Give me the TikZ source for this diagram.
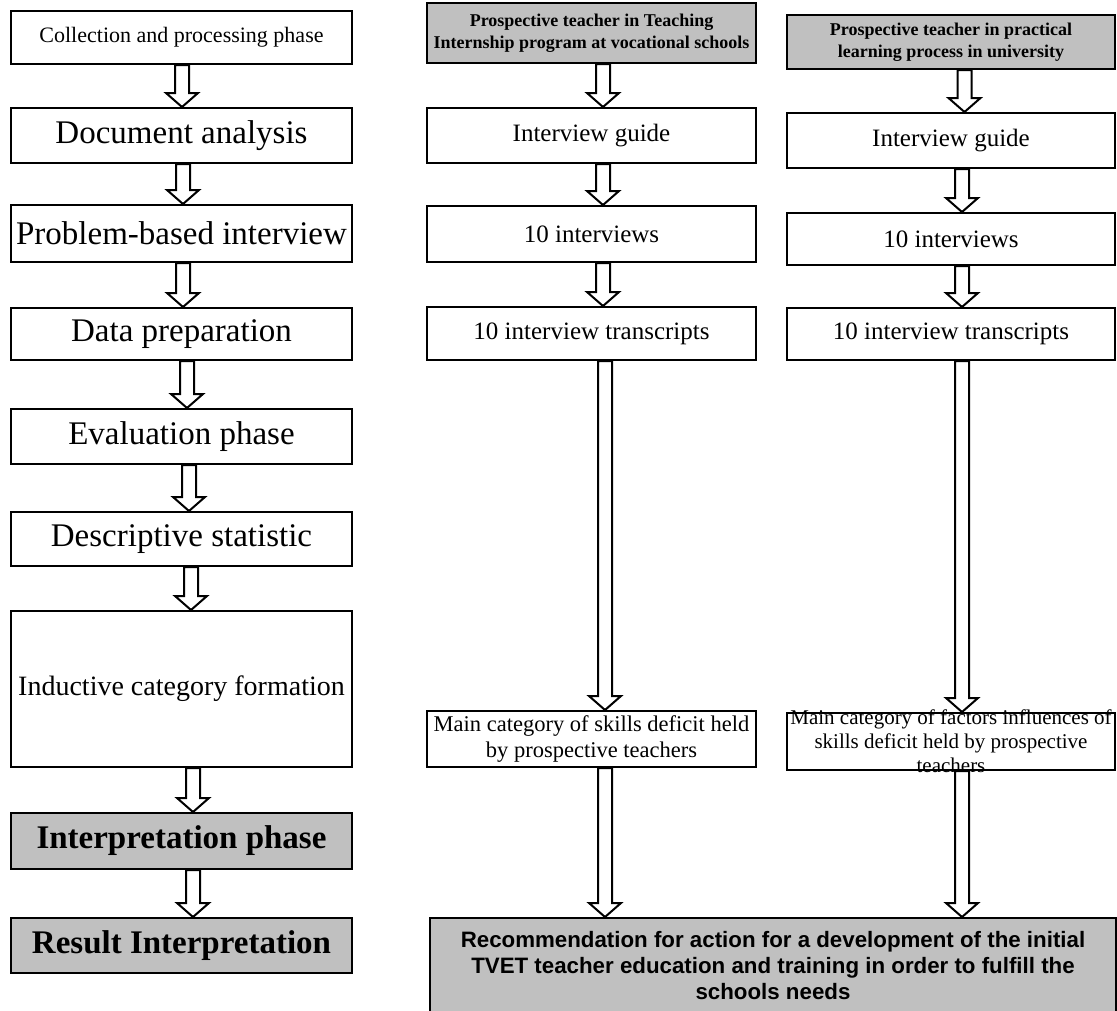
\documentclass[tikz,border=0pt]{standalone}
\usepackage{fontspec}
\setmainfont{Liberation Serif}
\newfontfamily\arialfont{Liberation Sans}
\usetikzlibrary{calc}
\definecolor{boxgray}{RGB}{192,192,192}
\newcommand{\hollowarrow}[3][0pt]{%
  \draw[hollow] let \p1=($(#2.south)+(#1,0)$), \p2=(#3.north) in
    (\x1-7pt,\y1) -- (\x1+7pt,\y1) -- (\x1+7pt,\y2+14pt) -- (\x1+16pt,\y2+14pt)
    -- (\x1,\y2) -- (\x1-16pt,\y2+14pt) -- (\x1-7pt,\y2+14pt) -- cycle;}
\newcommand{\fs}[1]{\fontsize{#1}{1.15\dimexpr#1pt\relax}\selectfont}

\begin{document}
\begin{tikzpicture}[x=1pt,y=-1pt,
  phasebox/.style={draw,line width=2pt,rectangle,inner sep=0pt,align=center},
  greybox/.style={phasebox,fill=boxgray},
  hollow/.style={draw,fill=white,line width=2pt,line join=miter}]
\useasboundingbox (0,0) rectangle (1117,1010);
\node[phasebox,minimum width=341pt,minimum height=53pt,font=\fs{22}] (collect) at (181.5,37.5) {Collection and processing phase};
\node[phasebox,minimum width=341pt,minimum height=55pt,font=\fs{33}] (docana) at (181.5,135.5) {Document analysis};
\node[phasebox,minimum width=341pt,minimum height=57pt,font=\fs{33}] (probint) at (181.5,233.5) {Problem-based interview};
\node[phasebox,minimum width=341pt,minimum height=52pt,font=\fs{33}] (dataprep) at (181.5,334) {Data preparation};
\node[phasebox,minimum width=341pt,minimum height=55pt,font=\fs{33}] (evalph) at (181.5,436.5) {Evaluation phase};
\node[phasebox,minimum width=341pt,minimum height=54pt,font=\fs{33}] (descstat) at (181.5,539) {Descriptive statistic};
\node[phasebox,minimum width=341pt,minimum height=156pt,font=\fs{28}] (induct) at (181.5,689) {Inductive category formation};
\node[greybox,minimum width=341pt,minimum height=56pt,font=\fs{33}\bfseries] (interp) at (181.5,841) {Interpretation phase};
\node[greybox,minimum width=341pt,minimum height=55pt,font=\fs{33}\bfseries] (result) at (181.5,945.5) {Result Interpretation};
\node[greybox,minimum width=329pt,minimum height=60pt,font=\fontsize{18}{22}\selectfont\bfseries] (mhead) at (591.5,33) {Prospective teacher in Teaching\\Internship program at vocational schools};
\node[phasebox,minimum width=329pt,minimum height=55pt,font=\fs{25}] (mguide) at (591.5,135.5) {Interview guide};
\node[phasebox,minimum width=329pt,minimum height=56pt,font=\fs{25}] (mten) at (591.5,234) {10 interviews};
\node[phasebox,minimum width=329pt,minimum height=53pt,font=\fs{25}] (mtrans) at (591.5,333.5) {10 interview transcripts};
\node[phasebox,minimum width=329pt,minimum height=56pt,font=\fontsize{22.5}{26}\selectfont] (mcat) at (591.5,739) {Main category of skills deficit held\\by prospective teachers};
\node[greybox,minimum width=328pt,minimum height=54pt,font=\fontsize{18}{22}\selectfont\bfseries] (rhead) at (951,42) {Prospective teacher in practical\\learning process in university};
\node[phasebox,minimum width=328pt,minimum height=55pt,font=\fs{25}] (rguide) at (951,140.5) {Interview guide};
\node[phasebox,minimum width=328pt,minimum height=52pt,font=\fs{25}] (rten) at (951,239) {10 interviews};
\node[phasebox,minimum width=328pt,minimum height=52pt,font=\fs{25}] (rtrans) at (951,334) {10 interview transcripts};
\node[phasebox,minimum width=328pt,minimum height=57pt] (rcat) at (951,741.5) {};
\node[align=center,inner sep=0pt,font=\fontsize{21}{24}\selectfont] (rcattext) at (rcat.center) {Main category of factors influences of\\skills deficit held by prospective\\teachers};
\node[greybox,minimum width=686pt,minimum height=96pt,font=\arialfont\fontsize{22.3}{26}\selectfont\bfseries] (recommend) at (773,966) {Recommendation for action for a development of the initial\\TVET teacher education and training in order to fulfill the\\schools needs};
\foreach \a/\b/\s in {collect/docana/0.5,docana/probint/1.5,probint/dataprep/1.5,dataprep/evalph/5.5,evalph/descstat/7.5,descstat/induct/9.5,induct/interp/11.5,interp/result/11.5,mhead/mguide/11.5,mguide/mten/11.5,mten/mtrans/11.5,mtrans/mcat/13.5,mcat/recommend/13.5,rhead/rguide/13.5,rguide/rten/11,rten/rtrans/11,rtrans/rcat/11,rcat/recommend/11}
  {\hollowarrow[\s pt]{\a}{\b}}
\end{tikzpicture}
\end{document}
